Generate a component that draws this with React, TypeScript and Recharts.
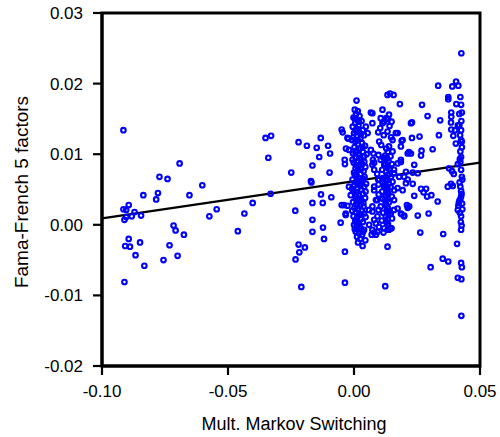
import {
  ScatterChart,
  Scatter,
  XAxis,
  YAxis,
  ReferenceLine,
  ReferenceArea,
  Label,
} from "recharts";

const xTicks = [-0.1, -0.05, 0, 0.05];
const yTicks = [-0.02, -0.01, 0, 0.01, 0.02, 0.03];
const fitX = [-0.1, 0.05];
const fitY = [0.0009, 0.0088];

// [x, y] pairs
const leftGroup = [
  [-0.0915, 0.0134], [-0.0692, 0.0087], [-0.0772, 0.0068], [-0.074, 0.0065],
  [-0.0602, 0.0056], [-0.0836, 0.0042], [-0.0778, 0.0045], [-0.0785, 0.0036],
  [-0.0653, 0.0042], [-0.0894, 0.0028], [-0.0915, 0.0022], [-0.0904, 0.0021],
  [-0.0871, 0.0018], [-0.0545, 0.0022], [-0.0574, 0.0012], [-0.0845, 0.0013],
  [-0.0882, 0.0012], [-0.0904, 0.0011], [-0.0911, 0.0007], [-0.0716, -0.0001],
  [-0.0708, -0.0008], [-0.0675, -0.0014], [-0.0894, -0.002], [-0.0908, -0.003],
  [-0.0889, -0.0031], [-0.0849, -0.0025], [-0.0732, -0.0029], [-0.0867, -0.0043],
  [-0.07, -0.0044], [-0.0756, -0.005], [-0.0832, -0.0058], [-0.0911, -0.0081],
];

const midGroup = [
  [-0.0351, 0.0123], [-0.0329, 0.0126], [-0.034, 0.0095], [-0.0331, 0.0044],
  [-0.0402, 0.0031], [-0.0435, 0.0016], [-0.0461, -0.0009], [-0.022, 0.0117],
  [-0.0187, 0.0112], [-0.0148, 0.0109], [-0.0132, 0.0123], [-0.0103, 0.0112],
  [-0.0095, 0.0101], [-0.0138, 0.0096], [-0.0049, 0.0135], [-0.0045, 0.0131],
  [-0.0165, 0.0084], [-0.0249, 0.0074], [-0.0097, 0.0074], [-0.0171, 0.0062],
  [-0.0169, 0.006], [-0.0131, 0.0043], [-0.0165, 0.0031], [-0.0124, 0.0031],
  [-0.009, 0.0039], [-0.0233, 0.002], [-0.0049, 0.0028], [-0.0026, 0.0027],
  [-0.0033, 0.0016], [-0.0165, 0.0007], [-0.0053, 0.0003], [-0.0123, -0.0004],
  [-0.0165, -0.001], [-0.0119, -0.002], [-0.022, -0.0028], [-0.0195, -0.0032],
  [-0.0217, -0.0039], [-0.0232, -0.0049], [-0.0036, -0.0038], [0.0034, -0.003],
  [-0.0209, -0.0088], [-0.0036, -0.0082], [-0.0037, 0.0092], [-0.0036, 0.0086],
  [-0.0032, 0.0108], [-0.0022, 0.0122], [-0.0026, 0.0123], [-0.002, 0.0106],
  [-0.004, 0.0028], [-0.0033, 0.0014], [-0.0013, 0.0042], [-0.002, 0.0054],
];

const zeroGroup = [
  [0.001, 0.0176], [0.0003, 0.0163], [0.0015, 0.0161], [0.0008, 0.0157],
  [0.0022, 0.0154], [-0.0002, 0.0152], [0.0012, 0.0149], [0.003, 0.0147],
  [0.0005, 0.0144], [0.0018, 0.0141], [-0.0005, 0.0139], [0.001, 0.0136],
  [0.0035, 0.0134], [0.002, 0.0131], [0.0, 0.013], [0.004, 0.0127],
  [0.0012, 0.0125], [0.0025, 0.0122], [-0.0008, 0.012], [0.0006, 0.0118],
  [0.0031, 0.0116], [0.0016, 0.0114], [0.0044, 0.0112], [0.0002, 0.011],
  [0.0024, 0.0108], [0.001, 0.0105], [0.0036, 0.0103], [-0.0004, 0.0101],
  [0.0018, 0.0099], [0.004, 0.0097], [0.0007, 0.0095], [0.0027, 0.0093],
  [0.0013, 0.009], [-0.0001, 0.0088], [0.0033, 0.0086], [0.002, 0.0084],
  [0.0045, 0.0082], [0.0006, 0.008], [0.0015, 0.0078], [0.0038, 0.0076],
  [0.0, 0.0074], [0.0026, 0.0072], [0.001, 0.007], [0.0042, 0.0068],
  [0.0018, 0.0066], [-0.0006, 0.0064], [0.0032, 0.0062], [0.0008, 0.006],
  [0.0022, 0.0058], [0.0001, 0.0056], [0.004, 0.0054], [0.0014, 0.0052],
  [0.0028, 0.005], [-0.0003, 0.0048], [0.001, 0.0046], [0.0035, 0.0044],
  [0.002, 0.0042], [0.0005, 0.004], [0.0044, 0.0038], [0.0016, 0.0036],
  [0.003, 0.0034], [-0.0004, 0.0032], [0.0009, 0.003], [0.0024, 0.0028],
  [0.0038, 0.0026], [0.0002, 0.0024], [0.0015, 0.0022], [0.0031, 0.002],
  [0.0007, 0.0018], [0.004, 0.0016], [0.002, 0.0014], [-0.0002, 0.0012],
  [0.0012, 0.001], [0.0027, 0.0008], [0.0005, 0.0006], [0.0035, 0.0004],
  [0.0018, 0.0002], [0.0, 0.0], [0.001, -0.0003], [0.0027, -0.0005],
  [0.004, -0.0007], [0.0007, -0.001], [0.002, -0.0012], [0.0032, -0.0014],
  [0.0012, -0.0017], [0.0025, -0.002], [0.0045, -0.0022], [0.0016, -0.0025],
  [0.0004, 0.015], [0.0019, 0.0146], [0.0008, 0.0133], [0.0028, 0.0129],
  [-0.0003, 0.0124], [0.0015, 0.012], [0.0034, 0.011], [0.0006, 0.0102],
  [0.0021, 0.0095], [-0.0006, 0.0092], [0.0041, 0.0089], [0.0009, 0.0085],
  [0.0028, 0.0079], [0.0003, 0.0071], [0.0036, 0.0065], [0.0012, 0.0063],
  [0.0025, 0.0055], [-0.0008, 0.0051], [0.0046, 0.0047], [0.0007, 0.0043],
  [0.0023, 0.0037], [0.0037, 0.0031], [0.0012, 0.0027], [-0.0007, 0.002],
  [0.0029, 0.0015], [0.0046, 0.0011], [0.0009, 0.0003], [0.0022, -0.0002],
  [0.0003, -0.0006], [0.0036, -0.001], [0.0048, 0.0058], [0.005, 0.01],
];

const innerGroup = [
  [0.0182, 0.0171], [0.0067, 0.0159], [0.0113, 0.0163], [0.0139, 0.0156],
  [0.0149, 0.0146], [0.0106, 0.0151], [0.0113, 0.0144], [0.0073, 0.0144],
  [0.0047, 0.0139], [0.0226, 0.0144], [0.0054, 0.013], [0.0133, 0.0132],
  [0.0166, 0.013], [0.0193, 0.012], [0.0186, 0.0111], [0.01, 0.0118],
  [0.0067, 0.0106], [0.0077, 0.0101], [0.0139, 0.0111], [0.0153, 0.0104],
  [0.0106, 0.0092], [0.012, 0.0085], [0.0186, 0.0089], [0.0213, 0.0101],
  [0.0073, 0.0085], [0.008, 0.0078], [0.0159, 0.0078], [0.0179, 0.0068],
  [0.0213, 0.0064], [0.01, 0.0064], [0.012, 0.0054], [0.0133, 0.0045],
  [0.008, 0.0049], [0.0153, 0.0061], [0.0193, 0.0049], [0.0206, 0.0059],
  [0.0219, 0.0026], [0.0159, 0.0035], [0.0173, 0.0023], [0.0126, 0.0031],
  [0.0139, 0.0019], [0.0093, 0.0035], [0.0106, 0.0026], [0.0186, 0.0016],
  [0.0199, 0.0012], [0.006, 0.0021], [0.0093, 0.0012], [0.008, 0.0007],
  [0.006, 0.0], [0.0073, -0.0007], [0.0093, -0.001], [0.012, -0.0005],
  [0.0133, -0.0007], [0.0146, -0.0005], [0.007, -0.0014], [0.0087, -0.0014],
  [0.0119, 0.0146], [0.0128, 0.0151], [0.0073, 0.0158], [0.0104, 0.0137],
  [0.0173, 0.013], [0.0153, 0.012], [0.0075, 0.0092], [0.008, 0.0088],
  [0.0096, 0.0064], [0.008, 0.0054], [0.0173, 0.0087], [0.0186, 0.0092],
  [0.0159, 0.0073], [0.0206, 0.0075], [0.0199, 0.0068], [0.0159, 0.0049],
  [0.0173, 0.0052], [0.0087, 0.0035], [0.0073, 0.0026], [0.0073, 0.0019],
  [0.0146, 0.0016], [0.0159, 0.0021], [0.0087, 0.0002], [0.008, -0.0011],
  [0.0133, 0.0], [0.0139, -0.0007], [0.0133, -0.0031], [0.0124, -0.0087],
  [0.0128, 0.0108], [0.0134, 0.0103], [0.0124, 0.0098], [0.0131, 0.0094],
  [0.0137, 0.009], [0.0126, 0.0086], [0.0133, 0.0082], [0.014, 0.0079],
  [0.0127, 0.0075], [0.0135, 0.0071], [0.0124, 0.0067], [0.0131, 0.0063],
  [0.0138, 0.0059], [0.0126, 0.0056], [0.0133, 0.0052], [0.0129, 0.0048],
  [0.0136, 0.0044], [0.0125, 0.004], [0.0132, 0.0036], [0.0139, 0.0032],
  [0.0127, 0.0028], [0.0134, 0.0024], [0.013, 0.002], [0.0136, 0.0016],
  [0.0126, 0.0012], [0.0133, 0.0008], [0.0128, 0.0004], [0.0135, 0.0001],
  [0.0141, 0.014], [0.0135, 0.015], [0.0143, 0.0186], [0.0133, 0.0184],
  [0.0157, 0.0184], [0.0149, -0.0005],
  [0.0096, 0.0131], [0.0118, 0.0127], [0.0147, 0.0124], [0.0108, 0.0113],
  [0.0145, 0.0097], [0.0097, 0.0099], [0.0117, 0.0095], [0.015, 0.0086],
  [0.0112, 0.0078], [0.0092, 0.0072], [0.0147, 0.0068], [0.0114, 0.0066],
  [0.0097, 0.0057], [0.0146, 0.0053], [0.0112, 0.0047], [0.0098, 0.0043],
  [0.015, 0.004], [0.0114, 0.0037], [0.0097, 0.0021], [0.0116, 0.0017],
  [0.0151, 0.0009], [0.011, 0.0006], [0.0099, -0.0003], [0.0117, -0.0011],
  [0.0123, 0.0035], [0.0121, 0.0058],
];

const edgeGroup = [
  [0.0426, 0.0243], [0.0405, 0.0203], [0.0414, 0.0197], [0.039, 0.0196],
  [0.0334, 0.0197], [0.0374, 0.0181], [0.0374, 0.0178], [0.0422, 0.0181],
  [0.0406, 0.0171], [0.0425, 0.017], [0.027, 0.017], [0.0386, 0.0159],
  [0.0428, 0.0159], [0.0418, 0.0157], [0.0292, 0.0154], [0.0342, 0.0148],
  [0.0386, 0.0153], [0.0385, 0.0145], [0.023, 0.0145], [0.0412, 0.0141],
  [0.0386, 0.0135], [0.0401, 0.0134], [0.0425, 0.0134], [0.0394, 0.0126],
  [0.0337, 0.0127], [0.026, 0.0125], [0.023, 0.0123], [0.0425, 0.012],
  [0.0428, 0.0118], [0.0404, 0.0115], [0.0189, 0.0119], [0.0312, 0.0107],
  [0.0268, 0.0105], [0.0266, 0.0098], [0.0218, 0.0103], [0.0226, 0.0101],
  [0.0422, 0.0104], [0.0425, 0.0096], [0.0422, 0.0089], [0.0412, 0.0086],
  [0.0239, 0.0085], [0.0377, 0.008], [0.0389, 0.0076], [0.0396, 0.0072],
  [0.0425, 0.0078], [0.0253, 0.0073], [0.0233, 0.0074], [0.0428, 0.0068],
  [0.0233, 0.0058], [0.0385, 0.0058], [0.0372, 0.0054], [0.0392, 0.0055],
  [0.0422, 0.0054], [0.0425, 0.0048], [0.0266, 0.0051], [0.0286, 0.0051],
  [0.0276, 0.0046], [0.029, 0.004], [0.0307, 0.0042], [0.0425, 0.004],
  [0.0418, 0.0034], [0.0429, 0.003], [0.0414, 0.0027], [0.0332, 0.0033],
  [0.021, 0.0028], [0.0213, 0.0024], [0.0239, 0.0041], [0.0189, 0.0015],
  [0.0199, 0.0013], [0.0253, 0.0013], [0.0296, 0.0016], [0.0412, 0.0021],
  [0.0425, 0.0012], [0.0263, -0.0011], [0.0354, -0.0013], [0.0425, -0.0007],
  [0.0409, -0.0027], [0.0352, -0.0048], [0.0374, -0.0052], [0.0425, -0.0054],
  [0.0428, -0.006], [0.0304, -0.006], [0.0412, -0.0075], [0.0426, -0.0077],
  [0.0426, -0.0129], [0.0428, 0.011], [0.042, 0.0093], [0.043, 0.0064],
  [0.0419, 0.006], [0.0427, 0.0044], [0.0422, 0.0036], [0.0416, 0.0031],
  [0.043, 0.0022], [0.042, 0.0017], [0.0424, 0.0004], [0.0427, -0.0001],
  [0.0418, 0.0141], [0.0426, 0.0147], [0.0421, 0.0127],
];

const points = [...leftGroup, ...midGroup, ...zeroGroup, ...innerGroup, ...edgeGroup].map(
  ([x, y]) => ({ x, y })
);

const font = "'Liberation Sans', Arial, sans-serif";
const tickStyle = { fill: "#000", fontSize: 17, fontFamily: font };

const Ring = (props: any) => (
  <circle
    cx={props.cx}
    cy={props.cy}
    r={2.3}
    fill="none"
    stroke="#0000ff"
    strokeWidth={2.1}
  />
);

export default function App() {
  return (
    <div style={{ position: "absolute", left: 0, top: 0, background: "#fff" }}>
      <ScatterChart
        width={500}
        height={437}
        margin={{ top: 13, right: 20, bottom: 0, left: 32 }}
      >
        <XAxis
          type="number"
          dataKey="x"
          domain={[-0.1, 0.05]}
          ticks={xTicks}
          allowDataOverflow
          height={71}
          stroke="#000"
          axisLine={{ stroke: "#000", strokeWidth: 3 }}
          tickLine={{ stroke: "#000", strokeWidth: 2.2 }}
          tickSize={9}
          tickMargin={10}
          tick={tickStyle}
          tickFormatter={(v: number) => v.toFixed(2)}
        >
          <Label
            content={() => (
              <text
                x={294}
                y={430}
                textAnchor="middle"
                fontSize={18}
                fontFamily={font}
                fill="#000"
              >
                Mult. Markov Switching
              </text>
            )}
          />
        </XAxis>
        <YAxis
          type="number"
          dataKey="y"
          domain={[-0.02, 0.03]}
          ticks={yTicks}
          allowDataOverflow
          width={70}
          stroke="#000"
          axisLine={{ stroke: "#000", strokeWidth: 3 }}
          tickLine={{ stroke: "#000", strokeWidth: 2.2 }}
          tickSize={9}
          tickMargin={10}
          tick={tickStyle}
          tickFormatter={(v: number) => v.toFixed(2)}
        >
          <Label
            content={() => (
              <text
                x={28}
                y={192}
                transform="rotate(-90 28 192)"
                textAnchor="middle"
                fontSize={19}
                fontFamily={font}
                fill="#000"
              >
                Fama-French 5 factors
              </text>
            )}
          />
        </YAxis>
        <ReferenceArea
          x1={-0.1}
          x2={0.05}
          y1={-0.02}
          y2={0.03}
          fill="none"
          stroke="#000"
          strokeWidth={3}
          fillOpacity={0}
        />
        <Scatter
          data={points}
          shape={Ring}
          isAnimationActive={false}
        />
        <ReferenceLine
          segment={[
            { x: fitX[0], y: fitY[0] },
            { x: fitX[1], y: fitY[1] },
          ]}
          stroke="#000"
          strokeWidth={2.2}
        />
      </ScatterChart>
    </div>
  );
}
